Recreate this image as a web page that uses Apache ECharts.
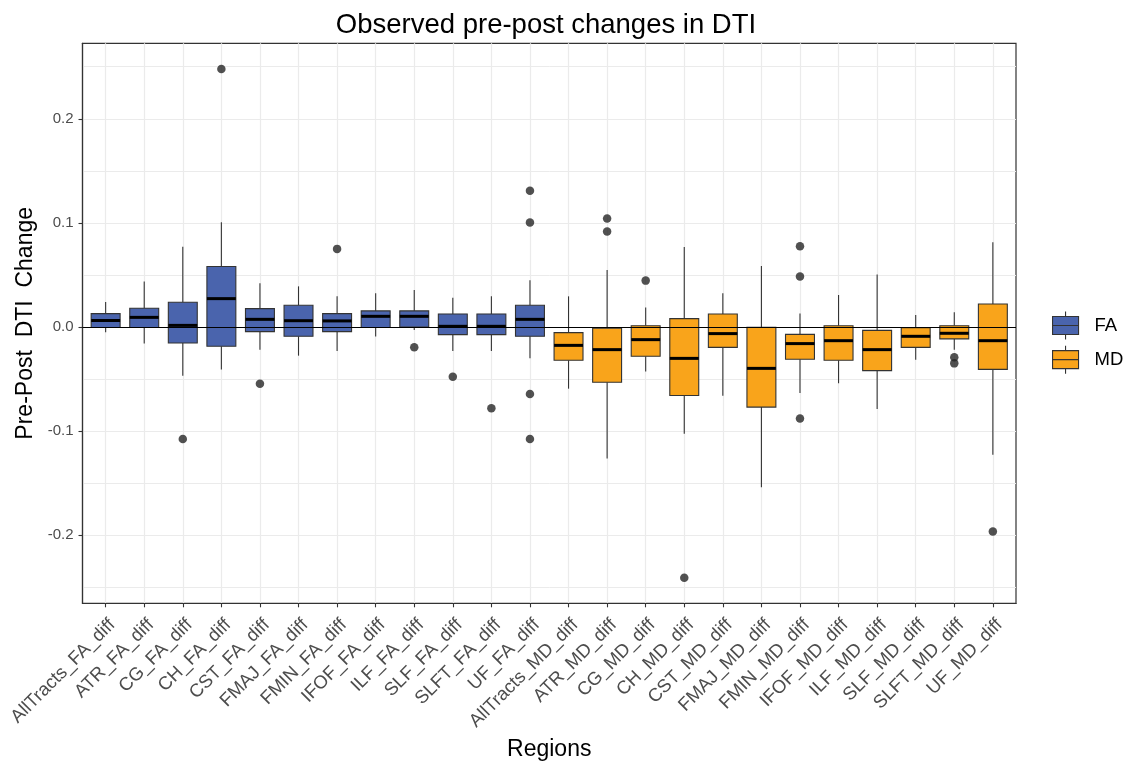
<!DOCTYPE html>
<html>
<head>
<meta charset="utf-8">
<script src="https://cdn.jsdelivr.net/npm/echarts@6/dist/echarts.min.js"></script>
<style>
  html, body { margin: 0; padding: 0; background: #ffffff; }
  #chart { width: 1125px; height: 761px; }
</style>
</head>
<body>
<div id="chart"></div>
<script>
// Region labels along the x axis
const faRegions = ['AllTracts_FA_diff', 'ATR_FA_diff', 'CG_FA_diff', 'CH_FA_diff', 'CST_FA_diff', 'FMAJ_FA_diff',
  'FMIN_FA_diff', 'IFOF_FA_diff', 'ILF_FA_diff', 'SLF_FA_diff', 'SLFT_FA_diff', 'UF_FA_diff'];
const mdRegions = ['AllTracts_MD_diff', 'ATR_MD_diff', 'CG_MD_diff', 'CH_MD_diff', 'CST_MD_diff', 'FMAJ_MD_diff',
  'FMIN_MD_diff', 'IFOF_MD_diff', 'ILF_MD_diff', 'SLF_MD_diff', 'SLFT_MD_diff', 'UF_MD_diff'];
const regions = faRegions.concat(mdRegions);

// Box statistics per region: [lower whisker, Q1, median, Q3, upper whisker]
const faStats = [
  [-0.005, -0.0005, 0.0062, 0.0128, 0.024],
  [-0.016, -0.0005, 0.0092, 0.0180, 0.0436],
  [-0.047, -0.0154, 0.0015, 0.0237, 0.077],
  [-0.041, -0.0186, 0.0272, 0.0580, 0.1006],
  [-0.022, -0.0045, 0.0073, 0.0176, 0.042],
  [-0.0276, -0.009, 0.0060, 0.0208, 0.039],
  [-0.023, -0.0045, 0.0058, 0.0128, 0.0294],
  [-0.0093, -0.0005, 0.0102, 0.0154, 0.0323],
  [-0.003, 0.0, 0.0102, 0.0154, 0.0356],
  [-0.023, -0.0074, 0.0006, 0.0125, 0.028],
  [-0.023, -0.0074, 0.0006, 0.0125, 0.0294],
  [-0.030, -0.009, 0.0073, 0.0208, 0.0448]
];
const mdStats = [
  [-0.0593, -0.032, -0.0177, -0.0055, 0.0294],
  [-0.1263, -0.0532, -0.0218, -0.0013, 0.0548],
  [-0.0427, -0.0282, -0.0122, 0.0012, 0.0186],
  [-0.1026, -0.0658, -0.0302, 0.0080, 0.0769],
  [-0.066, -0.0196, -0.0064, 0.0125, 0.0323],
  [-0.154, -0.077, -0.0398, -0.0004, 0.0586],
  [-0.0635, -0.031, -0.016, -0.0071, 0.0128],
  [-0.054, -0.032, -0.0132, 0.0012, 0.0308],
  [-0.0789, -0.042, -0.0218, -0.0033, 0.0503],
  [-0.0314, -0.0196, -0.009, -0.0007, 0.0115],
  [-0.0218, -0.0115, -0.0061, 0.0012, 0.014],
  [-0.1228, -0.0408, -0.0132, 0.0221, 0.0813]
];

// Points beyond the whiskers: [region, value]
const outliers = [
  ['CG_FA_diff', -0.1077],
  ['CH_FA_diff', 0.2477],
  ['CST_FA_diff', -0.0545],
  ['FMIN_FA_diff', 0.075],
  ['ILF_FA_diff', -0.0196],
  ['SLF_FA_diff', -0.0478],
  ['SLFT_FA_diff', -0.078],
  ['UF_FA_diff', 0.1308],
  ['UF_FA_diff', 0.1003],
  ['UF_FA_diff', -0.0644],
  ['UF_FA_diff', -0.1077],
  ['ATR_MD_diff', 0.1041],
  ['ATR_MD_diff', 0.0916],
  ['CG_MD_diff', 0.0445],
  ['CH_MD_diff', -0.241],
  ['FMIN_MD_diff', 0.0775],
  ['FMIN_MD_diff', 0.0484],
  ['FMIN_MD_diff', -0.0879],
  ['SLFT_MD_diff', -0.0292],
  ['SLFT_MD_diff', -0.035],
  ['UF_MD_diff', -0.1965]
];

// Axis ticks
const yMajorTicks = [-0.2, -0.1, 0.0, 0.1, 0.2];
const yMinorTicks = [-0.25, -0.15, -0.05, 0.05, 0.15, 0.25];
const yTickLabels = ['-0.2', '-0.1', '0.0', '0.1', '0.2'];

const FA_COLOR = '#4A64AD';
const MD_COLOR = '#F9A41B';
const EDGE = '#333333';
const GRID_LINE = '#ebebeb';
const BOX_WIDTH = 0.75;
const FONT = '"Liberation Sans", Arial, sans-serif';

const regionIndex = {};
regions.forEach((r, i) => { regionIndex[r] = i; });
const regionTicks = regions.map((r, i) => i);

function boxRows(names, stats) {
  return names.map((n, k) => [regionIndex[n]].concat(stats[k]));
}

// Whiskers without caps, filled box, thick black median
function makeRenderer(fill) {
  return function (params, api) {
    const i = api.value(0);
    const pLo = api.coord([i, api.value(1)]);
    const pQ1 = api.coord([i, api.value(2)]);
    const pMed = api.coord([i, api.value(3)]);
    const pQ3 = api.coord([i, api.value(4)]);
    const pHi = api.coord([i, api.value(5)]);
    const half = api.size([BOX_WIDTH, 0])[0] / 2;
    const x = pMed[0];
    return {
      type: 'group',
      children: [
        { type: 'line', shape: { x1: x, y1: pHi[1], x2: x, y2: pQ3[1] }, style: { stroke: EDGE, lineWidth: 1.1 } },
        { type: 'line', shape: { x1: x, y1: pQ1[1], x2: x, y2: pLo[1] }, style: { stroke: EDGE, lineWidth: 1.1 } },
        { type: 'rect', shape: { x: x - half, y: pQ3[1], width: half * 2, height: pQ1[1] - pQ3[1] },
          style: { fill: fill, stroke: EDGE, lineWidth: 1.1 } },
        { type: 'line', shape: { x1: x - half, y1: pMed[1], x2: x + half, y2: pMed[1] },
          style: { stroke: '#000000', lineWidth: 3 } }
      ]
    };
  };
}

const legendIcon = 'path://M0,5H26V23H0Z M0,14H26 M13,0V5 M13,23V28';

const chart = echarts.init(document.getElementById('chart'), null, { renderer: 'canvas' });

chart.setOption({
  animation: false,
  backgroundColor: '#ffffff',
  textStyle: { fontFamily: FONT },
  title: {
    text: 'Observed pre-post changes in DTI',
    left: 546, top: 11, textAlign: 'center', padding: 0,
    textStyle: { fontFamily: FONT, fontSize: 27.5, fontWeight: 'normal', color: '#000000' }
  },
  legend: {
    orient: 'vertical',
    left: 1052, top: 311, padding: 0,
    itemWidth: 26, itemHeight: 28, itemGap: 5,
    icon: legendIcon,
    textStyle: { fontFamily: FONT, fontSize: 18.5, color: '#000000', padding: [0, 0, 0, 11] },
    data: [
      { name: 'FA', itemStyle: { color: FA_COLOR, borderColor: EDGE, borderWidth: 1.1 } },
      { name: 'MD', itemStyle: { color: MD_COLOR, borderColor: EDGE, borderWidth: 1.1 } }
    ]
  },
  grid: {
    left: 82.5, top: 43.3, width: 933.5, height: 560,
    containLabel: false,
    outerBoundsMode: 'none',
    show: true, borderColor: EDGE, borderWidth: 1.2, backgroundColor: '#ffffff'
  },
  xAxis: {
    type: 'value',
    min: -0.6, max: regions.length - 0.4,
    name: 'Regions',
    nameLocation: 'middle',
    nameGap: 131,
    nameTextStyle: { fontFamily: FONT, fontSize: 23, color: '#000000' },
    axisLine: { show: true, onZero: false, lineStyle: { color: EDGE, width: 1.2 } },
    axisTick: { show: true, inside: false, length: 4, lineStyle: { color: EDGE, width: 1.1 }, customValues: regionTicks },
    axisLabel: {
      customValues: regionTicks,
      formatter: v => regions[Math.round(v)],
      rotate: 45, margin: 12,
      align: 'right', verticalAlign: 'top',
      fontFamily: FONT, fontSize: 18.5, color: '#4d4d4d'
    },
    splitLine: { show: true, lineStyle: { color: GRID_LINE, width: 1.2 } }
  },
  yAxis: [
    {
      type: 'value',
      min: -0.2655, max: 0.2725,
      name: 'Pre-Post  DTI  Change',
      nameLocation: 'middle',
      nameRotate: 90,
      nameGap: 44,
      nameTextStyle: { fontFamily: FONT, fontSize: 23, color: '#000000' },
      axisLine: { show: true, onZero: false, lineStyle: { color: EDGE, width: 1.2 } },
      axisTick: { show: true, inside: false, length: 4, lineStyle: { color: EDGE, width: 1.1 }, customValues: yMajorTicks },
      axisLabel: {
        customValues: yMajorTicks,
        formatter: v => yTickLabels[yMajorTicks.findIndex(t => Math.abs(t - v) < 1e-9)],
        margin: 9,
        fontFamily: FONT, fontSize: 15, color: '#4d4d4d'
      },
      splitLine: { show: true, lineStyle: { color: GRID_LINE, width: 1.2 } }
    },
    {
      type: 'value',
      min: -0.2655, max: 0.2725,
      position: 'left',
      axisLine: { show: false, onZero: false },
      axisTick: { show: false, customValues: yMinorTicks },
      axisLabel: { show: false, customValues: yMinorTicks },
      splitLine: { show: true, lineStyle: { color: GRID_LINE, width: 1 } }
    }
  ],
  series: [
    {
      name: 'FA',
      type: 'custom',
      itemStyle: { color: FA_COLOR },
      renderItem: makeRenderer(FA_COLOR),
      encode: { x: 0, y: [1, 2, 3, 4, 5] },
      data: boxRows(faRegions, faStats),
      z: 3
    },
    {
      name: 'MD',
      type: 'custom',
      itemStyle: { color: MD_COLOR },
      renderItem: makeRenderer(MD_COLOR),
      encode: { x: 0, y: [1, 2, 3, 4, 5] },
      data: boxRows(mdRegions, mdStats),
      z: 3
    },
    {
      name: 'outliers',
      type: 'scatter',
      symbol: 'circle',
      symbolSize: 8.5,
      itemStyle: { color: '#262626' },
      data: outliers.map(o => [regionIndex[o[0]], o[1]]),
      z: 5,
      markLine: {
        silent: true,
        symbol: 'none',
        label: { show: false },
        lineStyle: { color: '#000000', width: 1.2, type: 'solid' },
        data: [{ yAxis: 0 }]
      }
    }
  ]
});
</script>
</body>
</html>
